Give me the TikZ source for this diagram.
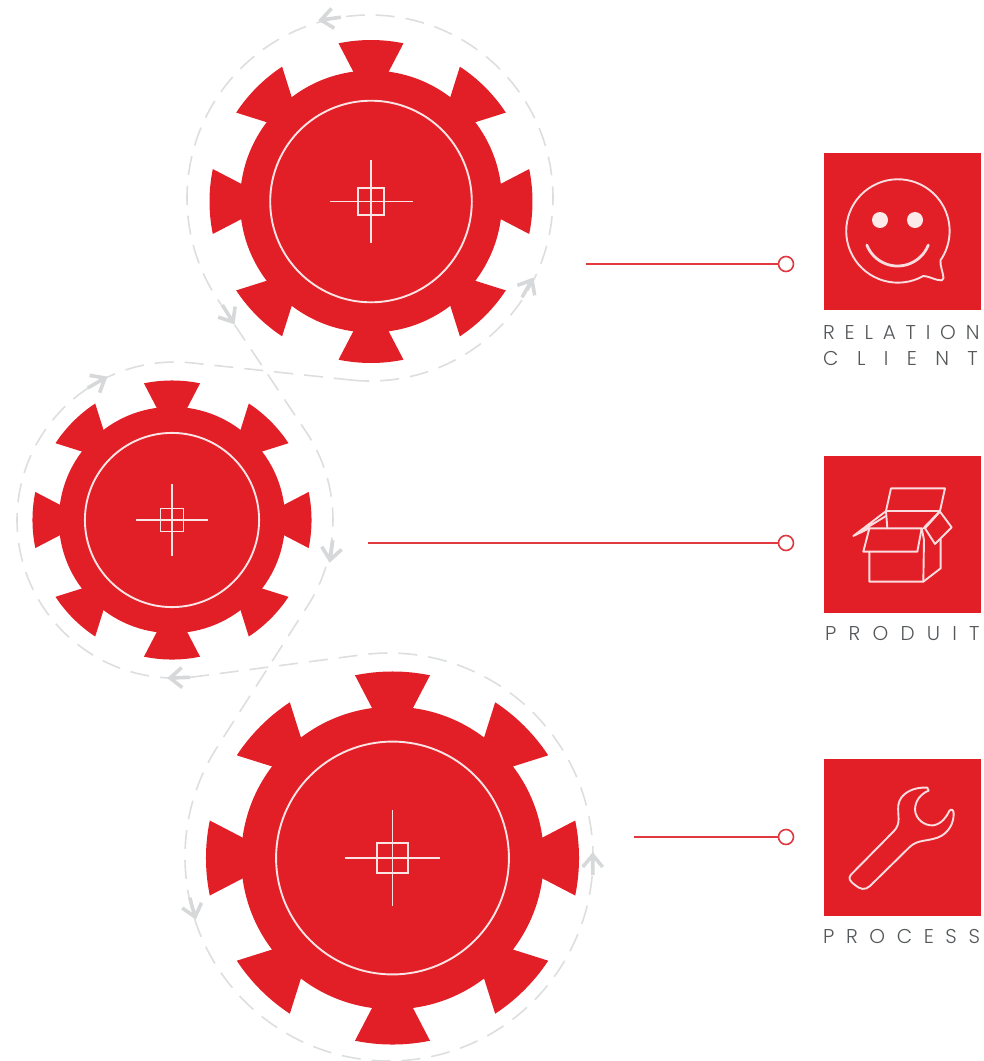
\documentclass[tikz,border=0pt]{standalone}
\usepackage{fontspec}
\setmainfont{Poppins}[UprightFont=* Light]
\definecolor{gearred}{HTML}{E21E27}
\definecolor{beltgray}{HTML}{DCDEDF}
\definecolor{chevgray}{HTML}{D6D8D9}
\definecolor{linkred}{HTML}{E0393F}
\definecolor{labelgray}{HTML}{55585A}
\tikzset{
  belt/.style={draw=beltgray,line width=1.6pt,dash pattern=on 19pt off 11pt},
  gearfill/.style={fill=gearred,draw=none},
  gearline/.style={draw=white!88!gearred,line width=1.9pt},
  iconline/.style={draw=white!85!gearred,line width=1.9pt,line join=round,line cap=round},
  iconsquare/.style={fill=gearred,draw=none},
  link/.style={draw=linkred,line width=1.5pt},
  dot/.style={circle,draw=linkred,fill=white,line width=1.6pt,minimum size=15pt,inner sep=0pt},
  lbl/.style={anchor=base west,text=labelgray,inner sep=0pt,font=\fontsize{20}{20}\selectfont},
  chev/.pic={\draw[chevgray,line width=3.6pt,line join=miter] (-12,-10) -- (0,0) -- (-12,10) (-20,0) -- (0,0);},
}
\newcommand{\gearat}[3]{% x, y, scale
  \begin{scope}[shift={(#1,#2)},x=#3pt,y=-#3pt]
    \fill[gearfill] (0,0) circle[radius=131];
    \foreach \a in {0,45,...,315}{
      \fill[gearfill] (\a-7.6:130) -- (\a-11.6:161.5) arc[start angle=\a-11.6,end angle=\a+11.6,radius=161.5] -- (\a+7.6:130) -- cycle;
    }
    \draw[gearline] (0,0) circle[radius=100.8];
    \draw[gearline] (-41.5,0) -- (41.5,0) (0,-41.5) -- (0,41.5) (-13.3,-13.3) rectangle (13.3,13.3);
  \end{scope}}
\begin{document}
\begin{tikzpicture}[x=1pt,y=-1pt]
\useasboundingbox (0,0) rectangle (984,1061);
\coordinate (c1) at (370,198);
\coordinate (c2) at (175,520);
\coordinate (c3) at (389,857);
% belt
\draw[belt]
  ([shift={(96.2:183)}]c1) arc[start angle=96.2,end angle=-213.8,radius=183]
  -- ([shift={(326.2:158)}]c2) arc[start angle=326.2,end angle=392.7,radius=158]
  -- ([shift={(212.7:204)}]c3) arc[start angle=212.7,end angle=-97.5,radius=204]
  -- ([shift={(82.5:158)}]c2) arc[start angle=82.5,end angle=276.2,radius=158]
  -- cycle;
\pic[rotate=-172] at (321,20) {chev};
\pic[rotate=-58] at (233,322) {chev};
\pic[rotate=60] at (532,280) {chev};
\pic[rotate=30] at (105,378) {chev};
\pic[rotate=-98] at (330,560) {chev};
\pic[rotate=-178] at (170,678) {chev};
\pic[rotate=-75] at (195,917) {chev};
\pic[rotate=90] at (592.7,855) {chev};
% gears
\gearat{371}{201.5}{1}
\gearat{172}{520}{0.864}
\gearat{392.5}{858}{1.155}
% connectors
\node[dot] (d1) at (786,264) {};
\node[dot] (d2) at (786,543) {};
\node[dot] (d3) at (786,837) {};
\coordinate (s1) at (586,264);
\coordinate (s2) at (368,543);
\coordinate (s3) at (634,837);
\draw[link] (s1) -- (d1);
\draw[link] (s2) -- (d2);
\draw[link] (s3) -- (d3);
% squares
\fill[iconsquare] (823.5,152.5) rectangle (981,310);
\fill[iconsquare] (823.5,455.5) rectangle (981,613);
\fill[iconsquare] (823.5,759) rectangle (981,916);
% smiley
\draw[iconline] (923.3,276) arc[start angle=60.6,end angle=394.6,radius=51.7]
   .. controls (940,266) and (943,272) .. (943.5,278) .. controls (943.5,281) and (941,280.5) .. (938,280) .. controls (933,279) and (928,276) .. (923.3,276);
\fill[white!90!gearred] (880,220) circle[radius=8] (915,220) circle[radius=8];
\draw[iconline,line width=2.8pt] (928.3,245) arc[start angle=21.3,end angle=158.7,radius=33];
% box
\begin{scope}[shift={(810,450)},x=0.3333pt,y=-0.3333pt]
  \draw[iconline] (228,183) -- (243,115) -- (405,115) -- (390,183) -- cycle;
  \draw[iconline] (178,235) -- (335,235) -- (322,305) -- (160,305) -- cycle;
  \draw[iconline] (178,305) -- (178,395) -- (340,395) -- (392,355) -- (392,268);
  \draw[iconline] (335,235) -- (342,270) -- (340,395);
  \draw[iconline] (228,183) -- (232,235);
  \draw[iconline] (390,183) -- (340,235);
  \draw[iconline] (178,235) -- (130,258) -- (226,185) (130,258) -- (228,198);
  \draw[iconline] (345,235) -- (390,185) -- (425,232) -- (375,282) -- cycle;
\end{scope}
% wrench
\begin{scope}[shift={(810,750)},x=0.3333pt,y=-0.3333pt]
  \draw[iconline] (122,375) -- (250,245) .. controls (275,220) and (262,200) .. (265,165)
    .. controls (270,130) and (310,110) .. (352,113) -- (356,122)
    .. controls (335,130) and (315,150) .. (315,180)
    .. controls (318,210) and (345,228) .. (370,226)
    .. controls (395,222) and (410,200) .. (418,183)
    .. controls (422,176) and (431,178) .. (431,190)
    .. controls (432,220) and (415,250) .. (385,262)
    .. controls (350,275) and (325,268) .. (300,290)
    -- (180,408) .. controls (165,422) and (150,418) .. (135,405)
    .. controls (118,392) and (115,385) .. (122,375) -- cycle;
\end{scope}
% labels
\node[lbl] (t1) at (823,339) {\addfontfeature{LetterSpace=49}RELATION};
\node[lbl] (t2) at (823,365) {\addfontfeature{LetterSpace=92}CLIENT};
\node[lbl] (t3) at (825,640) {\addfontfeature{LetterSpace=61}PRODUIT};
\node[lbl] (t4) at (823,943) {\addfontfeature{LetterSpace=58}PROCESS};
\end{tikzpicture}
\end{document}
